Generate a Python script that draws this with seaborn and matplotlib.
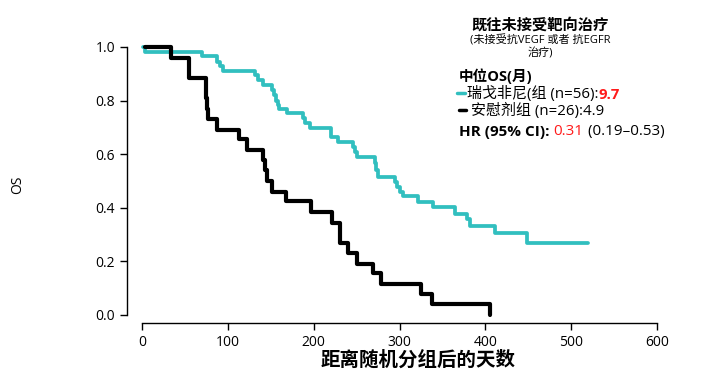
import pandas as pd
import matplotlib.pyplot as plt
import seaborn as sns
from matplotlib.lines import Line2D

# Kaplan-Meier steps (days, survival after the event)
rego_days = [1, 3.5, 69.6, 87, 91, 94, 132, 135, 141, 151, 154, 156, 158, 160, 169, 187, 190, 196,
             220, 228, 246, 248, 250, 271, 273, 275, 295, 297, 300, 304, 322, 339, 365, 379, 382,
             411, 449, 520]
rego_surv = [1.0, 0.983, 0.966, 0.945, 0.929, 0.912, 0.895, 0.877, 0.858, 0.84, 0.82, 0.80, 0.785,
             0.769, 0.754, 0.735, 0.716, 0.698, 0.665, 0.647, 0.627, 0.609, 0.591, 0.567, 0.541,
             0.516, 0.497, 0.479, 0.46, 0.444, 0.423, 0.403, 0.377, 0.36, 0.332, 0.305, 0.27, 0.27]

plac_days = [4, 34, 55, 74, 75, 76, 77, 87, 113, 122, 141, 143, 146, 151, 168, 197, 221, 231, 240,
             250, 269, 278, 325, 338, 405]
plac_surv = [1.0, 0.96, 0.885, 0.85, 0.81, 0.77, 0.73, 0.69, 0.655, 0.615, 0.58, 0.54, 0.50, 0.46,
             0.425, 0.385, 0.345, 0.27, 0.23, 0.19, 0.155, 0.115, 0.077, 0.04, 0.0]

groups = ["瑞戈非尼组", "安慰剂组"]
colors = {"瑞戈非尼组": "#31bfbf", "安慰剂组": "#000000"}

df = pd.concat([
    pd.DataFrame({"t": rego_days, "s": rego_surv, "grp": groups[0]}),
    pd.DataFrame({"t": plac_days, "s": plac_surv, "grp": groups[1]}),
])

sns.set_style("white")
plt.rcParams['font.family'] = ['Open Sans', 'Noto Sans CJK SC', 'DejaVu Sans']
plt.rcParams['text.color'] = 'black'

W, H = 701, 384
fig = plt.figure(figsize=(W / 100, H / 100), dpi=100)
ax = fig.add_axes([142 / W, 69 / H, 515 / W, 268 / H])

for g in groups:
    sub = df[df.grp == g]
    sns.lineplot(data=sub, x="t", y="s", ax=ax, color=colors[g], drawstyle="steps-post",
                 estimator=None, sort=False, lw=3.0 if g == groups[1] else 2.7,
                 legend=False, clip_on=False)

ax.set_xlim(0, 600)
ax.set_ylim(0, 1.0)
ax.set_xticks([0, 100, 200, 300, 400, 500, 600])
ax.set_yticks([0, 0.2, 0.4, 0.6, 0.8, 1.0])
ax.set_yticklabels(["0.0", "0.2", "0.4", "0.6", "0.8", "1.0"])
ax.set_xlabel("")
ax.set_ylabel("")
for side in ["top", "right"]:
    ax.spines[side].set_visible(False)
ax.spines["left"].set_position(("outward", 11))
ax.spines["bottom"].set_position(("outward", 6))
for side in ["left", "bottom"]:
    ax.spines[side].set_color("black")
    ax.spines[side].set_linewidth(1.0)
ax.tick_params(axis="both", which="both", direction="out", length=5, width=1.0,
               color="black", labelsize=10, labelcolor="black", left=True, bottom=True)

fig.text(418 / W, 1 - 360 / H, "距离随机分组后的天数", ha="center", va="center",
         fontsize=14, fontweight="bold", family=['Noto Sans CJK SC', 'DejaVu Sans'])
fig.text(18 / W, 1 - 185 / H, "OS", ha="center", va="center", rotation=90, fontsize=10)

# annotation block
fig.text(540 / W, 1 - 25 / H, "既往未接受靶向治疗", ha="center", va="center",
         fontsize=11, fontweight="bold")
fig.text(540 / W, 1 - 41 / H, "(未接受抗VEGF 或者 抗EGFR", ha="center", va="center", fontsize=8)
fig.text(540 / W, 1 - 54 / H, "治疗)", ha="center", va="center", fontsize=8)
fig.text(459 / W, 1 - 76 / H, "中位OS(月)", ha="left", va="center", fontsize=10.5, fontweight="bold")

t1 = fig.text(467 / W, 1 - 94 / H, "瑞戈非尼(组 (n=56):", ha="left", va="center", fontsize=10.8)
ax.annotate("9.7", xy=(1, 0), xycoords=t1, va="bottom", ha="left",
            fontsize=10.8, fontweight="bold", color="#ff1a1a", annotation_clip=False)
fig.text(471 / W, 1 - 111 / H, "安慰剂组 (n=26):4.9", ha="left", va="center", fontsize=10.8)

fig.add_artist(Line2D([457 / W, 465 / W], [1 - 93 / H] * 2, color=colors[groups[0]], lw=2.5))
fig.add_artist(Line2D([459 / W, 466 / W], [1 - 110 / H] * 2, color="black", lw=2.5))

t3 = fig.text(459 / W, 1 - 132 / H, "HR (95% CI): ", ha="left", va="center",
              fontsize=11, fontweight="bold")
t4 = ax.annotate("0.31", xy=(1, 0), xycoords=t3, va="bottom", ha="left",
                 fontsize=11, color="#ff1a1a", annotation_clip=False)
ax.annotate(" (0.19–0.53)", xy=(1, 0), xycoords=t4, va="bottom", ha="left",
            fontsize=11, color="black", annotation_clip=False)

fig.savefig("out.png", dpi=100)
plt.close()
